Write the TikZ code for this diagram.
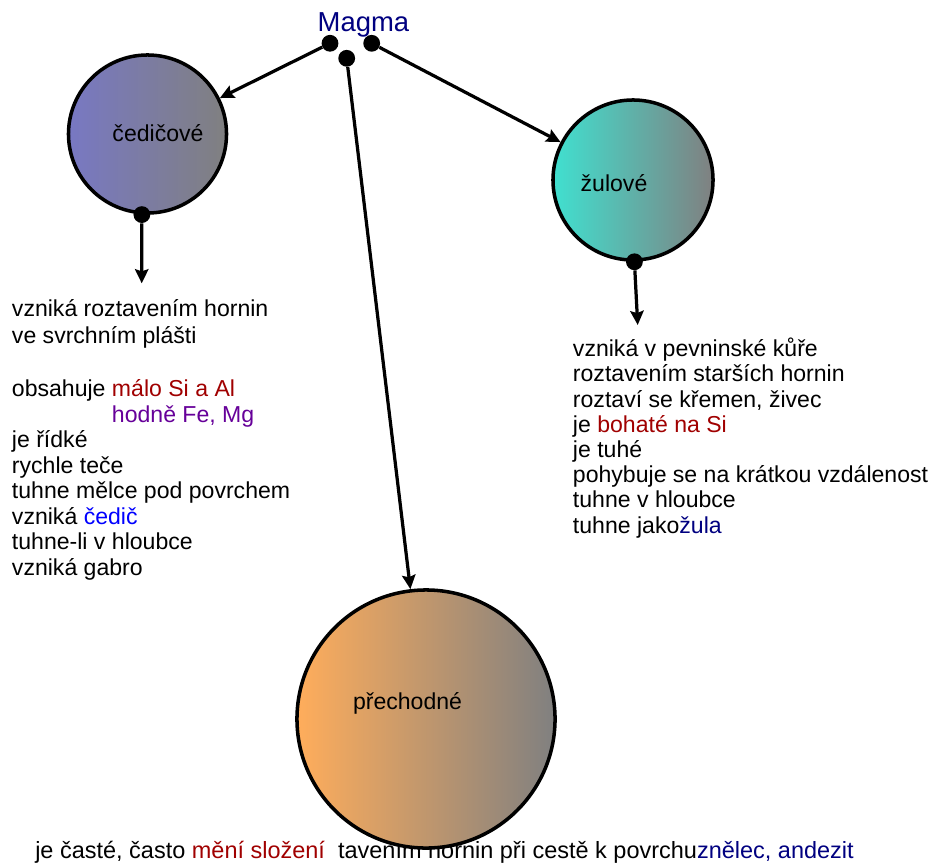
\documentclass[tikz,border=0pt]{standalone}
\usepackage{fontspec}
\setmainfont{Liberation Sans}
\usetikzlibrary{arrows.meta}
\definecolor{cedL}{RGB}{120,120,195}
\definecolor{zulL}{RGB}{64,224,208}
\definecolor{prechL}{RGB}{255,173,91}
\definecolor{grayR}{RGB}{128,128,128}
\definecolor{dred}{RGB}{160,0,0}
\definecolor{purp}{RGB}{102,0,153}
\definecolor{cblue}{RGB}{0,0,255}
\definecolor{navy}{RGB}{0,0,128}

\begin{document}
\begin{tikzpicture}[x=0.025cm,y=-0.025cm,
  ball/.style={circle,draw=black,line width=2.5pt,inner sep=0pt},
  pin/.style={circle,fill=black,inner sep=0pt,minimum size=0.42cm},
  arr/.style={line width=2.3pt,-{Stealth[length=10pt,width=9.5pt,inset=1.5pt]}},
  txt/.style={anchor=base west,align=left,inner sep=0pt},
  lbl/.style={inner sep=0pt,font=\fontsize{16.4}{18}\selectfont}]
\useasboundingbox (0,0) rectangle (938,866);

\node[txt,font=\fontsize{16.7}{18}\selectfont] (prechtxt) at (35,858) {je časté, často \textcolor{dred}{mění složení}\ \ tavením hornin při cestě k povrchu\textcolor{navy}{znělec, andezit}};

\node[ball,minimum size=3.95cm,left color=cedL,right color=grayR] (cedic) at (147.5,134) {};
\node[ball,minimum size=4cm,left color=zulL,right color=grayR] (zul) at (633,180) {};
\node[ball,minimum size=6.45cm,left color=prechL,right color=grayR] (prech) at (426,719) {};

\node[lbl] (cedlbl) at (158,133) {čedičové};
\node[lbl] (zullbl) at (614,183) {žulové};
\node[lbl] (prechlbl) at (407.5,703) {přechodné};

\node[anchor=base,inner sep=0pt,text=navy,font=\fontsize{19.5}{22}\selectfont] (magma) at (363.4,31.7) {Magma};

\node[pin] (mA) at (330,43.3) {};
\node[pin] (mB) at (346.7,58.3) {};
\node[pin] (mC) at (371.7,43.3) {};
\node[pin] (cedpin) at (cedic.-94) {};
\node[pin] (zulpin) at (zul.-89) {};

\coordinate (cedend) at (141.7,283.3);
\coordinate (zulend) at (637.7,325);

\draw[arr] (mA) -- (cedic);
\draw[arr] (mC) -- (zul);
\draw[arr] (mB) -- (prech);
\draw[arr] (cedpin) -- (cedend);
\draw[arr] (zulpin) -- (zulend);

\node[txt,font=\fontsize{16.4}{19.1}\selectfont] (cedtxtA) at (11.7,343) {vzniká roztavením hornin\\ve svrchním plášti};
\node[txt,font=\fontsize{16.4}{18.1}\selectfont] (cedtxtB) at (11.7,575) {obsahuje \textcolor{dred}{málo Si a Al}\\
\hphantom{obsahuje }\textcolor{purp}{hodně Fe, Mg}\\
je řídké\\
rychle teče\\
tuhne mělce pod povrchem\\
vzniká \textcolor{cblue}{čedič}\\
tuhne-li v hloubce\\
vzniká gabro};

\node[txt,font=\fontsize{16.4}{17.9}\selectfont] (zultxt) at (572.7,533) {vzniká v pevninské kůře\\
roztavením starších hornin\\
roztaví se křemen, živec\\
je \textcolor{dred}{bohaté na Si}\\
je tuhé\\
pohybuje se na krátkou vzdálenost\\
tuhne v hloubce\\
tuhne jako\textcolor{navy}{žula}};
\end{tikzpicture}
\end{document}
